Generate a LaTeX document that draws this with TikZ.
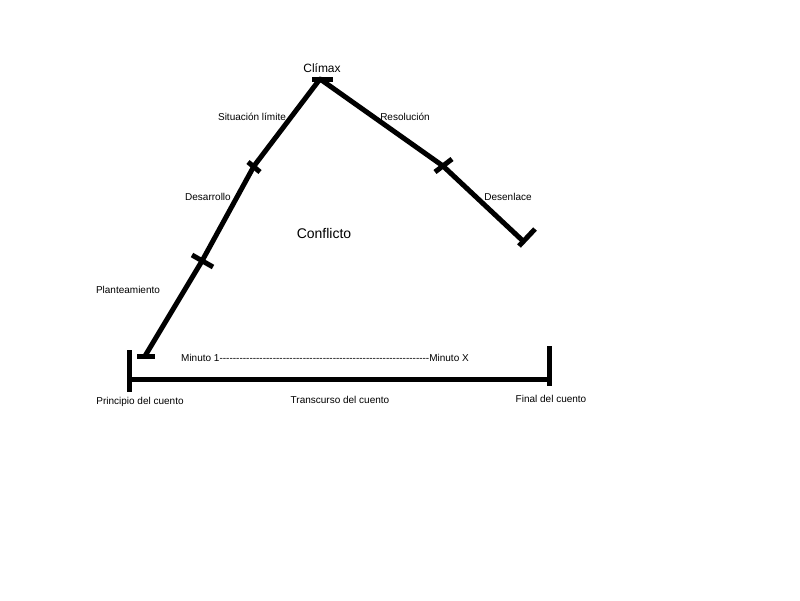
\documentclass[tikz,border=0pt]{standalone}
\usepackage{fontspec}
\setsansfont{Liberation Sans}
\usetikzlibrary{positioning}

\newcommand{\dashrun}{\foreach \i in {1,...,63}{-\kern0pt}}

\begin{document}
\begin{tikzpicture}[x=1pt, y=-1pt,
        every node/.style={
            font=\sffamily\fontsize{10}{12}\selectfont,
            inner sep=0pt
        },
        stage/.style={line width=5pt, line join=round},
        cut/.style={line width=5pt},
        big/.style={font=\sffamily\fontsize{12}{14}\selectfont},
        huge/.style={font=\sffamily\fontsize{14}{16}\selectfont}
    ]
        \useasboundingbox (0,0) rectangle (800,600);

        % Points of the story line
        \coordinate (start) at (145,356);
        \coordinate (plan) at (202,261);
        \coordinate (desa) at (254,166);
        \coordinate (climax) at (320,79);
        \coordinate (reso) at (443,166);
        \coordinate (finish) at (523,241);

        % Story line
        \draw[stage] (start) -- (plan) -- (desa) -- (climax) -- (reso) -- (finish);

        % Cuts on the story line
        \draw[cut] ([xshift=-8]start) -- ([xshift=10]start);
        \draw[cut] ([shift={(-10,-6)}]plan) -- ([shift={(11,6)}]plan);
        \draw[cut] ([shift={(-6,-4)}]desa) -- ([shift={(6,6)}]desa);
        \draw[cut] ([xshift=-8]climax) -- ([xshift=13]climax);
        \draw[cut] ([shift={(-8,6)}]reso) -- ([shift={(9,-7)}]reso);
        \draw[cut] ([shift={(12,-12)}]finish) -- ([shift={(-4,5)}]finish);

        % Labels of the story line
        \node[big, above=6pt of climax, xshift=2pt] (climaxlabel) {Clímax};
        \node (limite) at (252,117) {Situación límite};
        \node (desarrollo) at (208,197) {Desarrollo};
        \node (planteo) at (128,290) {Planteamiento};
        \node[huge] (conflicto) at (324,233) {Conflicto};
        \node (resolucion) at (405,117) {Resolución};
        \node (desenlace) at (508,197) {Desenlace};

        % Time line
        \coordinate (t0) at (129,379);
        \coordinate (t1) at (549,379);
        \draw[stage] (t0) -- (t1);
        \draw[cut] ([shift={(0,-29)}]t0) -- ([shift={(0,13)}]t0);
        \draw[cut] ([shift={(0,-33)}]t1) -- ([shift={(0,7)}]t1);

        % Labels of the time line
        \node (minutos) at (325,358) {Minuto 1\dashrun Minuto X};
        \node (principio) at (140,402) {Principio del cuento};
        \node (transcurso) at (340,400) {Transcurso del cuento};
        \node (final) at (551,399) {Final del cuento};
    \end{tikzpicture}
\end{document}
